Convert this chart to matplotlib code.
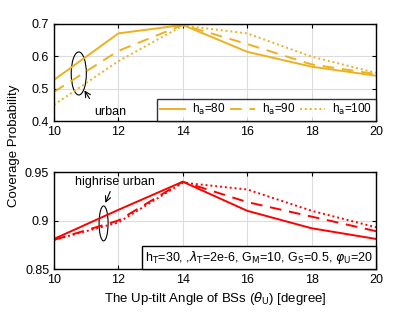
import matplotlib
matplotlib.use('Agg')
import matplotlib.pyplot as plt
from matplotlib.patches import Ellipse
from matplotlib.offsetbox import AnchoredText

plt.rcParams['font.family'] = ['Liberation Sans', 'DejaVu Sans']
plt.rcParams['mathtext.fontset'] = 'dejavusans'

# up-tilt angle
theta_u = [10, 12, 14, 16, 18, 20]

# urban (top panel)
urban_h80  = [0.527, 0.671, 0.697, 0.614, 0.568, 0.540]
urban_h90  = [0.490, 0.617, 0.697, 0.638, 0.575, 0.545]
urban_h100 = [0.450, 0.585, 0.695, 0.671, 0.599, 0.549]

# highrise urban (bottom panel)
high_h80  = [0.881, 0.911, 0.940, 0.910, 0.892, 0.881]
high_h90  = [0.880, 0.900, 0.940, 0.919, 0.904, 0.889]
high_h100 = [0.880, 0.898, 0.939, 0.932, 0.910, 0.893]

labels = ['h$_{\\rm a}$=80', 'h$_{\\rm a}$=90', 'h$_{\\rm a}$=100']
styles = ['-', (0, (6, 4)), (0, (1, 1.5))]

orange = '#EDB120'
red = '#FF0000'


def style_axes(ax):
    ax.grid(True, color='#dcdcdc', linewidth=0.8)
    ax.set_axisbelow(True)
    ax.tick_params(direction='in', top=True, right=True, labelsize=9,
                   length=3, width=0.8)
    for s in ax.spines.values():
        s.set_linewidth(1.0)
    ax.set_xlim(10, 20)
    ax.set_xticks(theta_u)


fig = plt.figure(figsize=(4.15, 3.12), dpi=100)
ax1 = fig.add_axes([54 / 415, 1 - 121 / 312, 322 / 415, 97 / 312])
ax2 = fig.add_axes([54 / 415, 1 - 269 / 312, 322 / 415, 97 / 312])

for ys, ls, lab in zip([urban_h80, urban_h90, urban_h100], styles, labels):
    ax1.plot(theta_u, ys, color=orange, linestyle=ls, linewidth=1.4, label=lab)
style_axes(ax1)
ax1.set_ylim(0.4, 0.7)
ax1.set_yticks([0.4, 0.5, 0.6, 0.7])
ax1.set_yticklabels(['0.4', '0.5', '0.6', '0.7'])
leg = ax1.legend(loc='lower right', ncol=3, fontsize=8.5, frameon=True,
                 fancybox=False, edgecolor='black', borderpad=0.3,
                 handlelength=2.1, columnspacing=0.4, handletextpad=0.6,
                 borderaxespad=0.0)
leg.get_frame().set_linewidth(1.0)
ax1.add_patch(Ellipse((10.77, 0.547), 0.47, 0.133, fill=False,
                      edgecolor='black', linewidth=0.8))
ax1.annotate('', xy=(10.9, 0.502), xytext=(11.15, 0.462),
             arrowprops=dict(arrowstyle='->', color='black', lw=0.8))
ax1.text(11.75, 0.428, 'urban', fontsize=9, ha='center', va='center')

for ys, ls in zip([high_h80, high_h90, high_h100], styles):
    ax2.plot(theta_u, ys, color=red, linestyle=ls, linewidth=1.4)
style_axes(ax2)
ax2.set_ylim(0.85, 0.95)
ax2.set_yticks([0.85, 0.9, 0.95])
ax2.set_yticklabels(['0.85', '0.9', '0.95'])
ax2.add_patch(Ellipse((11.54, 0.897), 0.28, 0.036, fill=False,
                      edgecolor='black', linewidth=0.8))
ax2.annotate('', xy=(11.56, 0.9155), xytext=(11.78, 0.9325),
             arrowprops=dict(arrowstyle='->', color='black', lw=0.8))
ax2.text(11.9, 0.940, 'highrise urban', fontsize=9, ha='center', va='center')
info = AnchoredText('h$_{\\rm T}$=30, ,$\\lambda_{\\rm T}$=2e-6, G$_{\\rm M}$=10, '
                    'G$_{\\rm S}$=0.5, $\\varphi_{\\rm U}$=20',
                    loc='lower right', borderpad=0.0, pad=0.25,
                    prop=dict(fontsize=9))
info.patch.set_boxstyle('square,pad=0')
info.patch.set_edgecolor('black')
info.patch.set_linewidth(1.0)
ax2.add_artist(info)
ax2.set_xlabel('The Up-tilt Angle of BSs ($\\theta_{\\rm U}$) [degree]',
               fontsize=9.5, labelpad=3)

fig.text(14 / 415, 1 - 146 / 312, 'Coverage Probability', rotation=90,
         fontsize=9.5, ha='center', va='center')

fig.savefig('out.png', dpi=100)
